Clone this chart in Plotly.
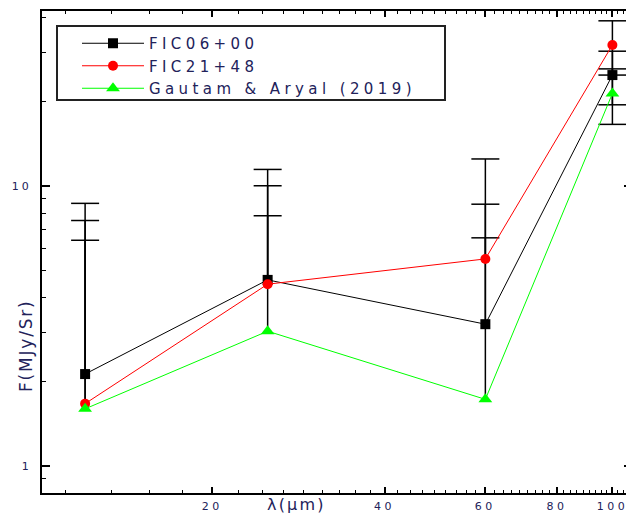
import numpy as np
import plotly.graph_objects as go

# ---- data ----
wavelength = [12, 25, 60, 100]
fic0600 = [2.13, 4.62, 3.21, 24.9]
fic2148 = [1.67, 4.46, 5.49, 31.9]
gautam = [1.60, 3.03, 1.73, 21.4]
err0600 = [5.4, 5.4, 5.4, 5.4]
err2148 = [7.0, 7.0, 7.0, 7.0]
errgautam = [4.8, 4.8, 4.8, 4.8]
names = ["FIC06+00", "FIC21+48", "Gautam &amp; Aryal (2019)"]
x_ticks = [20, 40, 60, 80, 100]
y_ticks = [1, 10]

FONT = "DejaVu Sans, Liberation Sans, Arial"
TXT = "#22225a"


def spaced(s, px):
    return '<span style="letter-spacing:%spx">%s</span>' % (px, s)


# minor ticks (Origin style: 8 linear minor ticks between majors)
step = 20 / 9
x_minor = [i * step for i in range(5, 49) if i % 9 != 0]
y_minor = [0.9] + list(range(2, 10)) + [20, 30, 40]

fig = go.Figure()

series = [
    (fic0600, err0600, names[0], "#000000", "square", 10),
    (fic2148, err2148, names[1], "#ff0000", "circle", 10),
    (gautam, errgautam, names[2], "#00ff00", "triangle-up", 12),
]

# error bars (drawn first, below markers); lower part omitted where it would be <= 0
for vals, errs, name, col, sym, sz in series:
    sx, sy, cx, cy = [], [], [], []
    for xv, yv, ev in zip(wavelength, vals, errs):
        lo = yv - ev if yv - ev > 0 else yv
        sx += [xv, xv, None]
        sy += [lo, yv + ev, None]
        cx.append(xv)
        cy.append(yv + ev)
        if yv - ev > 0:
            cx.append(xv)
            cy.append(yv - ev)
    fig.add_trace(go.Scatter(x=sx, y=sy, mode="lines", showlegend=False,
                             line=dict(color="black", width=1.5), hoverinfo="skip"))
    fig.add_trace(go.Scatter(x=cx, y=cy, mode="markers", showlegend=False,
                             marker=dict(symbol="line-ew", size=20,
                                         line=dict(color="black", width=1.5)),
                             hoverinfo="skip"))

for vals, errs, name, col, sym, sz in series:
    fig.add_trace(go.Scatter(
        x=wavelength, y=vals, mode="lines+markers", name=spaced(name, 4.4),
        line=dict(color=col, width=1),
        marker=dict(symbol=sym, size=sz, color=col, line=dict(width=0)),
    ))

axis_common = dict(
    type="log", showline=True, linecolor="black", linewidth=2, mirror="allticks",
    ticks="inside", tickcolor="black", tickwidth=1.5, showgrid=False, zeroline=False,
    tickfont=dict(family=FONT, size=11, color=TXT), tickmode="array",
    automargin=False,
)

fig.update_xaxes(
    **axis_common,
    range=[np.log10(10.09), np.log10(108.2)],
    tickvals=x_ticks, ticktext=[spaced(str(v), 3.5) for v in x_ticks], ticklen=6,
    ticklabelstandoff=2,
    minor=dict(tickmode="array", tickvals=x_minor, ticks="inside", ticklen=3,
               tickwidth=1.2, tickcolor="black"),
)
fig.update_yaxes(
    **axis_common,
    range=[-0.0964, 1.625],
    tickvals=y_ticks, ticktext=[spaced(str(v), 3) for v in y_ticks], ticklen=8,
    ticklabelstandoff=6,
    minor=dict(tickmode="array", tickvals=y_minor, ticks="inside", ticklen=4,
               tickwidth=1.2, tickcolor="black"),
)

# page is offset by the 8px default body margin; the plot area is at
# x 42..632, y 11..493 in page pixels
OFF = 8
W, H = 634 - OFF, 516 - OFF
PL, PR, PT, PB = 42, 632, 11, 493
ml, mt = PL - OFF, PT - OFF
mr, mb = W + OFF - PR, H + OFF - PB
pw, ph = PR - PL, PB - PT


def px(xp):
    return (xp - PL) / pw


def py(yp):
    return (PB - yp) / ph


fig.update_layout(
    width=W, height=H, autosize=False,
    margin=dict(l=ml, r=mr, t=mt, b=mb),
    paper_bgcolor="white", plot_bgcolor="white",
    showlegend=True,
    legend=dict(x=px(77), y=py(27), xanchor="left", yanchor="top",
                bgcolor="rgba(0,0,0,0)", borderwidth=0,
                font=dict(family=FONT, size=15, color=TXT), itemwidth=62,
                tracegroupgap=0),
    shapes=[dict(type="rect", xref="paper", yref="paper",
                 x0=px(57), x1=px(445), y0=py(100), y1=py(26),
                 line=dict(color="#222222", width=2), fillcolor="rgba(0,0,0,0)")],
    annotations=[
        dict(text=spaced("λ(μm)", 2.2), xref="paper", yref="paper", x=px(296), y=py(516),
             xanchor="center", yanchor="bottom", showarrow=False,
             font=dict(family=FONT, size=16, color=TXT)),
        dict(text=spaced("F(MJy/Sr)", 1.8), xref="paper", yref="paper", x=px(26), y=py(346),
             xanchor="center", yanchor="middle", showarrow=False, textangle=-90,
             font=dict(family=FONT, size=17, color=TXT)),
    ],
)

fig.write_html("out.html")
